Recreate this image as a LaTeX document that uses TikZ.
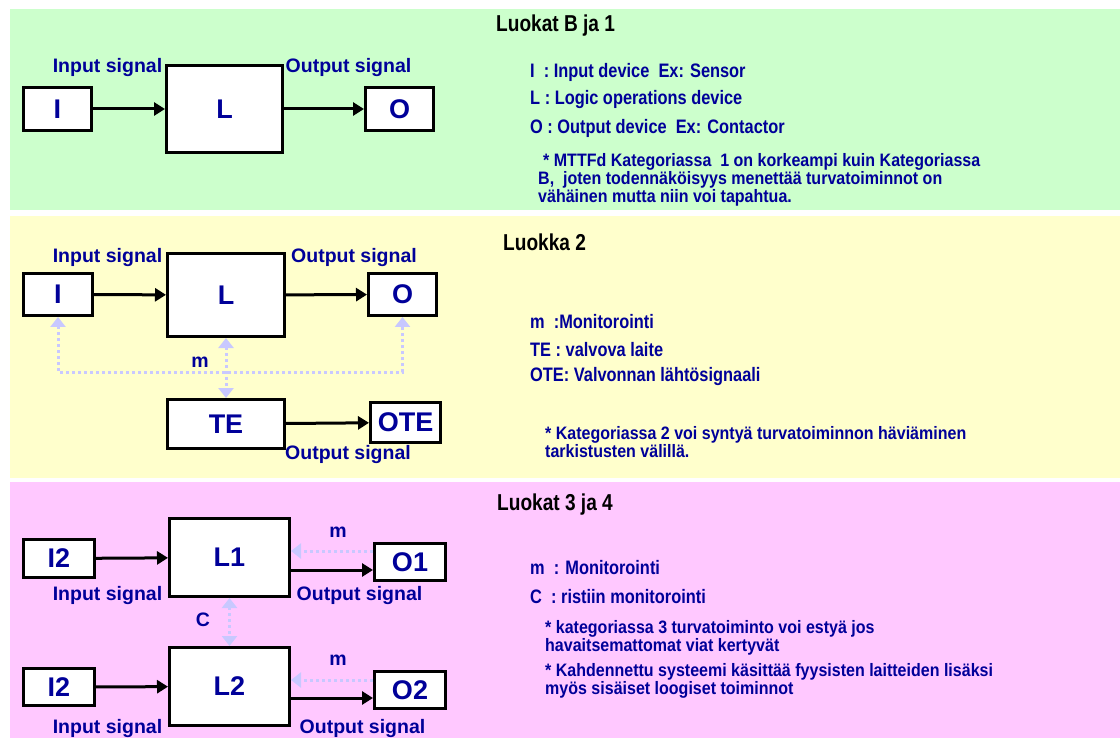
\documentclass[tikz,border=0pt]{standalone}
\usepackage{fontspec}
\setmainfont{Liberation Sans}
\newfontfamily\narrowfont{Liberation Sans}[FakeStretch=0.84]
\newfontfamily\notefont{Liberation Sans}[FakeStretch=0.89]
\newfontfamily\headfont{Liberation Sans}[FakeStretch=0.83]
\usetikzlibrary{arrows.meta,positioning}

\definecolor{navy}{HTML}{000099}
\definecolor{lav}{HTML}{C8C8FF}
\definecolor{bgA}{HTML}{CCFFCC}
\definecolor{bgB}{HTML}{FFFFCC}
\definecolor{bgC}{HTML}{FFC8FF}

\begin{document}
\begin{tikzpicture}[x=1pt,y=-1pt,>={Triangle[length=11pt,width=13pt]},
    blk/.style 2 args={draw,line width=3pt,fill=white,inner sep=0pt,minimum width=#1,minimum height=#2,
      text=navy,font=\fontsize{27}{27}\selectfont\bfseries},
    sig/.style={text=navy,inner sep=0pt,font=\fontsize{19.5}{20}\selectfont\bfseries},
    wire/.style={->,line width=3pt},
    mon/.style={draw=lav,line width=3pt,dash pattern=on 3pt off 3pt,>={Triangle[length=10pt,width=15pt]}},
    head/.style={anchor=west,inner sep=0pt,font=\headfont\fontsize{23}{23}\selectfont\bfseries},
    legend/.style={anchor=west,inner sep=0pt,text=navy,font=\narrowfont\fontsize{19.5}{20}\selectfont\bfseries},
    note/.style={anchor=north west,inner sep=0pt,align=left,text=navy,font=\notefont\fontsize{18}{18}\selectfont\bfseries}]
  \useasboundingbox (0,0) rectangle (1120,738);

  % three coloured bands
  \fill[bgA] (10,9) rectangle (1120,210);
  \fill[bgB] (10,216) rectangle (1120,478);
  \fill[bgC] (10,482) rectangle (1120,738);

  % --- Luokat B ja 1
  \node[blk={68pt}{43pt}] (Ia) at (57.5,109) {I};
  \node[blk={116pt}{87pt}] (La) at (224.5,109) {L};
  \node[blk={68pt}{43pt}] (Oa) at (399.5,109) {O};
  \node[sig] at (107.5,68) {Input signal};
  \node[sig] at (348.5,68) {Output signal};
  \path[wire] (Ia) edge (La)
    (La) edge (Oa);

  \node[head] (ta) at (496,26) {Luokat B ja 1};
  \node[legend] at (530,72) {I~~: Input device~~Ex: Sensor};
  \node[legend] at (530,100) {L : Logic operations device};
  \node[legend] at (530,128) {O : Output device~~Ex: Contactor};
  \node[note] at (538,153) {\hspace*{5pt}* MTTFd Kategoriassa~~1 on korkeampi kuin Kategoriassa\\
    B,~~joten todennäköisyys menettää turvatoiminnot on\\
    vähäinen mutta niin voi tapahtua.};

  % --- Luokka 2
  \node[blk={69pt}{42pt}] (Ib) at (58,294.5) {I};
  \node[blk={117pt}{83pt}] (Lb) at (226,295) {L};
  \node[blk={68pt}{42pt}] (Ob) at (402.5,294.5) {O};
  \node[blk={117pt}{49pt}] (TE) at (226,424) {TE};
  \node[blk={70pt}{40pt}] (OTE) at (405.5,422.5) {OTE};
  \node[sig] at (107.5,258) {Input signal};
  \node[sig] at (354,258) {Output signal};
  \node[sig] at (348,455) {Output signal};
  \path[wire] (Ib) edge (Lb)
    (Lb) edge (Ob)
    (TE) edge (OTE);
  \coordinate (mb) at (226,372);
  \draw[mon,<->] (Ib.south) |- (mb) -| (Ob.south);
  \draw[mon,<->] (Lb.south) -- (TE.north);
  \node[sig] at (200,362) {m};

  \node[head] (tb) at (503,242) {Luokka 2};
  \node[legend] at (530,322) {m~~:Monitorointi};
  \node[legend] at (530,350) {TE : valvova laite};
  \node[legend] at (530,377) {OTE: Valvonnan lähtösignaali};
  \node[note] at (545,426) {* Kategoriassa 2 voi syntyä turvatoiminnon häviäminen\\
    tarkistusten välillä.};

  % --- Luokat 3 ja 4
  \node[blk={71pt}{38pt}] (Ic) at (59,558.5) {I2};
  \node[blk={120pt}{78pt}] (Lc) at (229.5,557.5) {L1};
  \node[blk={71pt}{37pt}] (Oc) at (410,562) {O1};
  \node[blk={71pt}{37pt}] (Id) at (59,687) {I2};
  \node[blk={120pt}{78pt}] (Ld) at (229.5,686.5) {L2};
  \node[blk={71pt}{37pt}] (Od) at (410,690) {O2};
  \node[sig] at (107.5,595) {Input signal};
  \node[sig] at (359.5,595) {Output signal};
  \node[sig] at (107.5,728) {Input signal};
  \node[sig] at (362.5,728) {Output signal};

  \path[wire] (Ic) edge (Lc)
    (Id) edge (Ld);
  \coordinate (oc) at ([yshift=-8pt]Oc.west);
  \coordinate (od) at ([yshift=-8pt]Od.west);
  \draw[wire] (oc -| Lc.east) -- (oc);
  \draw[wire] (od -| Ld.east) -- (od);
  \coordinate (mc) at ([yshift=11pt]Oc.west);
  \coordinate (md) at ([yshift=10pt]Od.west);
  \draw[mon,->] (mc) -- (mc -| Lc.east);
  \draw[mon,->] (md) -- (md -| Ld.east);
  \draw[mon,<->] (Lc.south) -- (Ld.north);
  \node[sig] at (338,532) {m};
  \node[sig] at (338,660) {m};
  \node[sig] at (203,620) {C};

  \node[head] (tc) at (497,505) {Luokat 3 ja 4};
  \node[legend] at (530,568) {m~~: Monitorointi};
  \node[legend] at (530,597) {C~~: ristiin monitorointi};
  \node[note] at (545,620) {* kategoriassa 3 turvatoiminto voi estyä jos\\
    havaitsemattomat viat kertyvät};
  \node[note] at (545,663) {* Kahdennettu systeemi käsittää fyysisten laitteiden lisäksi\\
    myös sisäiset loogiset toiminnot};
\end{tikzpicture}
\end{document}
